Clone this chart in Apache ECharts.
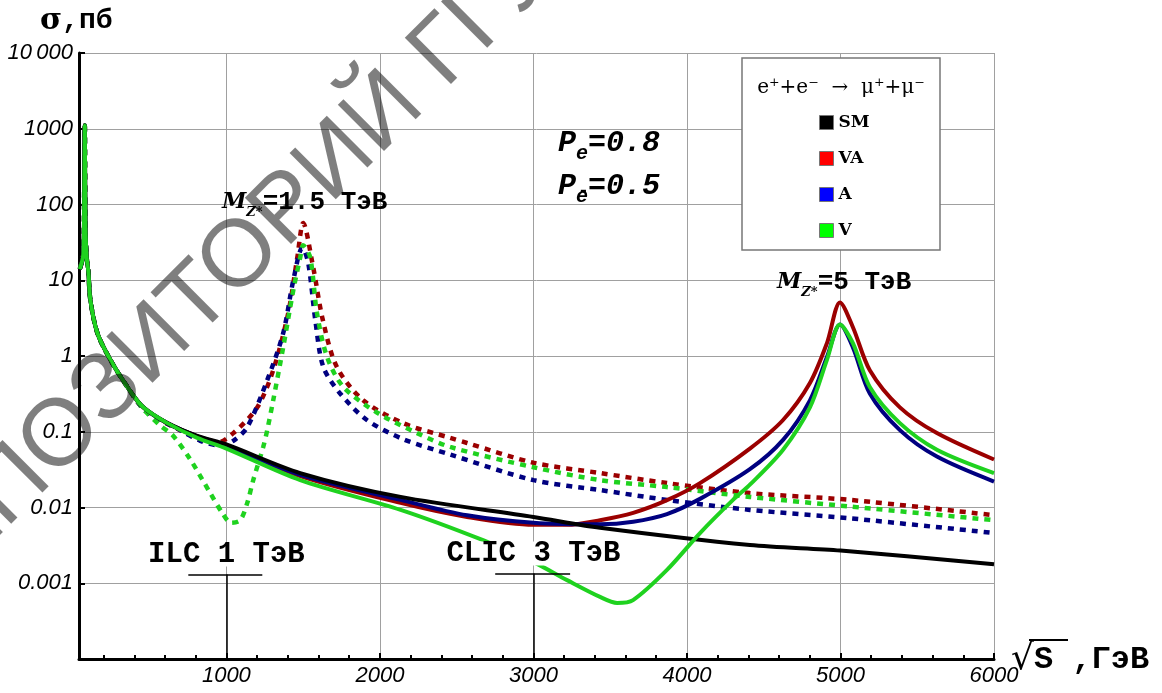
<!DOCTYPE html>
<html>
<head>
<meta charset="utf-8">
<title>e+e- → μ+μ-</title>
<script src="https://cdn.jsdelivr.net/npm/echarts@6/dist/echarts.min.js"></script>
<style>
html, body { margin: 0; padding: 0; background: #fff; }
#chart { width: 1162px; height: 693px; }
</style>
</head>
<body>
<div id="chart"></div>
<script>
// ---- данные (√s в ГэВ, σ в пб) ----
// общий участок до 355 ГэВ (пик Z)
const lowPart = [[45, 14], [68, 22], [74, 150], [78, 1100], [82, 50], [90, 20], [101, 13], [114, 5.5], [160, 2.0], [244, 0.89], [355, 0.39]]
// SM
const smTail = [[459, 0.21], [615, 0.13], [810, 0.088], [1000, 0.068], [1481, 0.0285], [2135, 0.0138], [3000, 0.0075], [3434, 0.0054], [4410, 0.0032], [5000, 0.0027], [6000, 0.00178]]
// M_Z* = 1.5 ТэВ (пунктир)
const vaZ15 = [[459, 0.2], [550, 0.15], [700, 0.105], [830, 0.078], [928, 0.07], [1045, 0.096], [1201, 0.21], [1305, 0.65], [1403, 3.7], [1462, 20], [1500, 57], [1565, 15], [1628, 3.0], [1719, 0.72], [1891, 0.26], [2151, 0.13], [2458, 0.083], [2568, 0.071], [3000, 0.039], [3434, 0.0285], [3870, 0.021], [4410, 0.0155], [5062, 0.0126], [6000, 0.0079]]
const aZ15 = [[459, 0.2], [550, 0.15], [700, 0.105], [830, 0.076], [960, 0.066], [1045, 0.076], [1136, 0.115], [1266, 0.48], [1370, 2.0], [1436, 10], [1495, 27], [1533, 17], [1579, 3.0], [1631, 0.72], [1741, 0.32], [1915, 0.143], [2151, 0.08], [2458, 0.05], [3000, 0.023], [3434, 0.017], [3870, 0.0126], [4410, 0.0093], [5062, 0.0072], [6000, 0.0046]]
const vZ15 = [[459, 0.2], [570, 0.12], [650, 0.09], [765, 0.043], [895, 0.0155], [973, 0.0085], [1030, 0.0063], [1090, 0.0068], [1136, 0.0115], [1175, 0.023], [1240, 0.063], [1266, 0.105], [1305, 0.26], [1370, 1.3], [1436, 7.4], [1481, 20], [1500, 29], [1546, 20], [1590, 3.7], [1656, 0.97], [1762, 0.39], [1983, 0.178], [2243, 0.096], [2458, 0.063], [3000, 0.034], [3434, 0.023], [3870, 0.0186], [4410, 0.0138], [5062, 0.0103], [6000, 0.0068]]
// M_Z* = 5 ТэВ (сплошные)
const vaZ5 = [[459, 0.21], [615, 0.13], [810, 0.087], [1000, 0.066], [1481, 0.026], [2135, 0.0115], [2568, 0.0075], [3000, 0.0059], [3219, 0.0059], [3434, 0.0068], [3650, 0.0085], [3870, 0.0125], [4085, 0.021], [4410, 0.06], [4626, 0.143], [4801, 0.44], [4912, 1.48], [4997, 5.1], [5081, 2.4], [5191, 0.65], [5387, 0.21], [5628, 0.096], [6000, 0.043]]
const aZ5 = [[459, 0.21], [615, 0.13], [810, 0.087], [1000, 0.066], [1481, 0.027], [2135, 0.0126], [2568, 0.0079], [3000, 0.0063], [3434, 0.006], [3650, 0.0065], [3870, 0.0082], [4085, 0.013], [4410, 0.032], [4626, 0.078], [4801, 0.26], [4912, 0.97], [4997, 2.6], [5081, 1.3], [5191, 0.32], [5387, 0.105], [5628, 0.047], [6000, 0.022]]
const vZ5 = [[459, 0.21], [615, 0.13], [810, 0.083], [1000, 0.06], [1481, 0.023], [2135, 0.0093], [2672, 0.0037], [3000, 0.0019], [3219, 0.0011], [3434, 0.00066], [3545, 0.00055], [3649, 0.0006], [3870, 0.0015], [4085, 0.0046], [4300, 0.0126], [4410, 0.02], [4626, 0.058], [4801, 0.21], [4912, 0.89], [4997, 2.6], [5081, 1.48], [5191, 0.39], [5387, 0.13], [5628, 0.058], [6000, 0.0285]]
// подписи оси σ (по степеням 10 от -4 до 4)
const yTickLabels = ['', '0.001', '0.01', '0.1', '1', '10', '100', '1000', '10\u2009000']
// коллайдеры: энергия, края планки, уровень планки
const colliders = [
  { label: 'ILC 1 ТэВ', energy: 1000, from: 752, to: 1234, level: 0.0013 },
  { label: 'CLIC 3 ТэВ', energy: 3000, from: 2751, to: 3239, level: 0.00135 }
]

const RED = '#9b0000'
const NAVY = '#000080'
const GREEN = '#1fd21f'
const MONO = 'Liberation Mono'

function curve(name, color, tail, dotted) {
  return {
    name: name,
    type: 'line',
    data: lowPart.concat(tail),
    showSymbol: false,
    smooth: 0.3,
    silent: true,
    animation: false,
    lineStyle: { color: color, width: dotted ? 4.5 : 4, type: dotted ? [6, 6] : 'solid', cap: 'butt' },
    itemStyle: { color: color },
    emphasis: { disabled: true }
  }
}

const chart = echarts.init(document.getElementById('chart'))

const smSeries = curve('SM', '#000', smTail, false)
smSeries.markLine = { // планки ILC / CLIC
  silent: true,
  symbol: 'none',
  animation: false,
  label: { show: false },
  lineStyle: { color: '#000', width: 1.5, type: 'solid' },
  data: colliders.flatMap(c => [
    [{ coord: [c.from, c.level] }, { coord: [c.to, c.level] }],
    [{ coord: [c.energy, c.level] }, { coord: [c.energy, 1e-4] }]
  ])
}

const option = {
  backgroundColor: '#fff',
  animation: false,
  grid: { left: 79, right: 168, top: 53, bottom: 34, containLabel: false, outerBoundsMode: 'none' },
  legend: {
    orient: 'vertical',
    left: 814,
    top: 109,
    icon: 'rect',
    itemWidth: 14,
    itemHeight: 14,
    itemGap: 19,
    selectedMode: false,
    z: 6,
    textStyle: { fontFamily: 'DejaVu Serif', fontWeight: 'bold', fontSize: 17, lineHeight: 17, color: '#000' },
    data: [
      { name: 'SM', itemStyle: { color: '#000', borderColor: '#777', borderWidth: 1, borderType: 'solid' } },
      { name: 'VA', itemStyle: { color: '#ff0000', borderColor: '#777', borderWidth: 1, borderType: 'solid' } },
      { name: 'A', itemStyle: { color: '#0000ff', borderColor: '#777', borderWidth: 1, borderType: 'solid' } },
      { name: 'V', itemStyle: { color: '#00ff00', borderColor: '#777', borderWidth: 1, borderType: 'solid' } }
    ]
  },
  xAxis: {
    type: 'value',
    min: 40,
    max: 6000,
    splitNumber: 6,
    axisLine: { onZero: false, lineStyle: { color: '#000', width: 3 } },
    axisTick: { inside: true, length: 6, lineStyle: { color: '#000', width: 2 } },
    minorTick: { show: true, splitNumber: 5, length: 4, lineStyle: { color: '#000', width: 2 } },
    splitLine: { show: true, lineStyle: { color: '#a0a0a0', width: 1 } },
    axisLabel: {
      showMinLabel: false,
      margin: 6,
      fontFamily: 'Liberation Sans',
      fontStyle: 'italic',
      fontSize: 22,
      color: '#000',
      formatter: v => String(v)
    }
  },
  yAxis: {
    type: 'log',
    logBase: 10,
    min: 1e-4,
    max: 1e4,
    axisLine: { onZero: false, lineStyle: { color: '#000', width: 3 } },
    axisTick: { inside: true, length: 6, lineStyle: { color: '#000', width: 2 } },
    splitLine: { show: true, lineStyle: { color: '#a0a0a0', width: 1 } },
    axisLabel: {
      margin: 6,
      fontFamily: 'Liberation Sans',
      fontStyle: 'italic',
      fontSize: 22,
      color: '#000',
      formatter: v => yTickLabels[Math.round(Math.log10(v)) + 4]
    }
  },
  series: [
    curve('VA', RED, vaZ15, true),
    curve('A', NAVY, aZ15, true),
    curve('V', GREEN, vZ15, true),
    curve('VA', RED, vaZ5, false),
    curve('A', NAVY, aZ5, false),
    smSeries,
    curve('V', GREEN, vZ5, false)
  ]
}
chart.setOption(option)

// подписи коллайдеров над планками
const colliderTexts = colliders.map(c => {
  const p = chart.convertToPixel({ gridIndex: 0 }, [c.energy, c.level])
  return {
    type: 'text',
    x: p[0],
    y: p[1] - 20,
    z: 20,
    style: {
      text: c.label,
      font: 'bold 29px "' + MONO + '"',
      lineHeight: 24,
      fill: '#000',
      align: 'center', verticalAlign: 'middle',
      textAlign: 'center', textVerticalAlign: 'middle',
      backgroundColor: '#fff',
      padding: [0, 2, 0, 2]
    }
  }
})

const poleStyle = {
  p: { font: 'italic bold 30px "' + MONO + '"', fill: '#000' },
  s: { font: 'italic bold 20px "' + MONO + '"', fill: '#000', verticalAlign: 'bottom', padding: [0, 0, -6, 0] }
}
const massStyle = {
  m: { font: 'italic bold 22px "DejaVu Serif"', fill: '#000' },
  s: { font: 'italic bold 13px "DejaVu Serif"', fill: '#000', verticalAlign: 'bottom', padding: [0, 0, -4, 0] },
  t: { font: 'bold 26px "' + MONO + '"', fill: '#000' }
}

chart.setOption({
  graphic: [
    // рамка легенды
    { type: 'rect', z: 4, shape: { x: 742, y: 58, width: 198, height: 192 }, style: { fill: '#fff', stroke: '#777', lineWidth: 1.5 } },
    {
      type: 'text', x: 841, y: 88, z: 5,
      style: { text: 'e\u207A+e\u207B  \u2192  \u03BC\u207A+\u03BC\u207B', font: '20px "DejaVu Serif"', fill: '#000', align: 'center', verticalAlign: 'middle', textAlign: 'center', textVerticalAlign: 'middle' }
    },
    // поляризации
    { type: 'text', x: 558, y: 143, z: 5, style: { text: '{p|P}{s|e}{p|=0.8}', verticalAlign: 'middle', textVerticalAlign: 'middle', rich: poleStyle } },
    { type: 'text', x: 558, y: 186, z: 5, style: { text: '{p|P}{s|e}{p|=0.5}', verticalAlign: 'middle', textVerticalAlign: 'middle', rich: poleStyle } },
    { type: 'text', x: 578, y: 182, z: 5, style: { text: '-', font: 'bold 18px "' + MONO + '"', fill: '#000' } },
    // массы Z*
    { type: 'text', x: 222, y: 202, z: 5, style: { text: '{m|M}{s|Z*}{t|=1.5 ТэВ}', verticalAlign: 'middle', textVerticalAlign: 'middle', rich: massStyle } },
    { type: 'text', x: 777, y: 282, z: 5, style: { text: '{m|M}{s|Z*}{t|=5 ТэВ}', verticalAlign: 'middle', textVerticalAlign: 'middle', rich: massStyle } },
    // названия осей
    {
      type: 'text', x: 40, y: 21, z: 5,
      style: {
        text: '{s|σ}{t|,пб}', verticalAlign: 'middle', textVerticalAlign: 'middle',
        rich: {
          s: { font: 'bold 30px "DejaVu Serif"', fill: '#000' },
          t: { font: 'bold 28px "' + MONO + '"', fill: '#000' }
        }
      }
    },
    {
      type: 'text', x: 1011, y: 660, z: 5,
      style: {
        text: '{r|√}{s|S}{t| ,ГэВ}', verticalAlign: 'middle', textVerticalAlign: 'middle',
        rich: {
          r: { font: '36px "DejaVu Sans"', fill: '#000' },
          s: { font: 'bold 32px "' + MONO + '"', fill: '#000' },
          t: { font: 'bold 32px "' + MONO + '"', fill: '#000' }
        }
      }
    },
    { type: 'line', z: 5, shape: { x1: 1029, y1: 640, x2: 1068, y2: 640 }, style: { stroke: '#000', lineWidth: 2 } },
    // водяной знак
    {
      type: 'text', x: 220, y: 278, z: 50, rotation: Math.PI / 4,
      style: {
        text: 'РЕПОЗИТОРИЙ ГГУ',
        font: '95px "Liberation Sans"',
        fill: 'rgba(0,0,0,0.5)',
        align: 'center', verticalAlign: 'middle',
        textAlign: 'center', textVerticalAlign: 'middle'
      }
    }
  ].concat(colliderTexts)
})
</script>
</body>
</html>
